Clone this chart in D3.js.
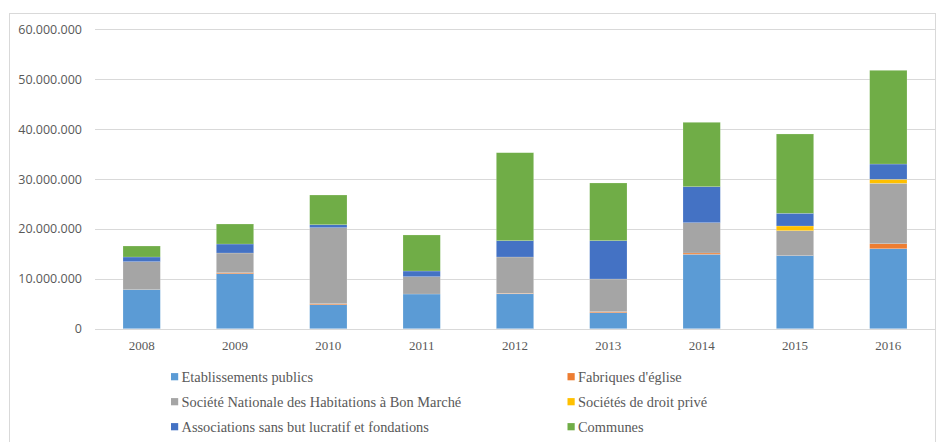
<!DOCTYPE html>
<html>
<head>
<meta charset="utf-8">
<script src="https://cdn.jsdelivr.net/npm/d3@7/dist/d3.min.js"></script>
<style>
  html, body { margin: 0; padding: 0; background: #fff; }
  svg { display: block; }
</style>
</head>
<body>
<svg id="chart" width="937" height="442"></svg>
<script>
const years = ["2008", "2009", "2010", "2011", "2012", "2013", "2014", "2015", "2016"];
const seriesNames = [
  "Etablissements publics",
  "Fabriques d'église",
  "Société Nationale des Habitations à Bon Marché",
  "Sociétés de droit privé",
  "Associations sans but lucratif et fondations",
  "Communes"
];
const etablissements = [7820000, 11020000, 4810000, 6950000, 7000000, 3210000, 14910000, 14630000, 16030000];
const fabriques      = [0, 200000, 200000, 0, 100000, 200000, 260000, 0, 1000000];
const snhbm          = [5610000, 3950000, 15230000, 3470000, 7270000, 6550000, 6070000, 5010000, 12110000];
const droitPrive     = [0, 0, 0, 0, 0, 0, 0, 940000, 800000];
const associations   = [940000, 1800000, 600000, 1140000, 3270000, 7680000, 7220000, 2550000, 3060000];
const communes       = [2200000, 4010000, 5950000, 7220000, 17630000, 11560000, 12900000, 15890000, 18780000];
const colors = ["#5B9BD5", "#ED7D31", "#A5A5A5", "#FFC000", "#4472C4", "#70AD47"];
const yTicks = [0, 10000000, 20000000, 30000000, 40000000, 50000000, 60000000];

(function () {
const seriesValues = [etablissements, fabriques, snhbm, droitPrive, associations, communes];
const keys = seriesNames;
const rows = years.map((yr, i) => {
  const r = { year: yr };
  keys.forEach((k, j) => r[k] = seriesValues[j][i]);
  return r;
});
const stacked = d3.stack().keys(keys)(rows);

const svg = d3.select("#chart");
const plotLeft = 95, plotRight = 935, plotTop = 29.3, plotBottom = 328.7;

// outer chart border
svg.append("rect")
  .attr("x", 9.5).attr("y", 13.5)
  .attr("width", 926).attr("height", 440)
  .attr("fill", "none").attr("stroke", "#d9d9d9").attr("stroke-width", 1);

const x = d3.scaleBand().domain(years).range([plotLeft, plotRight]).paddingInner(0.6).paddingOuter(0.3);
const y = d3.scaleLinear().domain([0, 60000000]).range([plotBottom, plotTop]);

const fmt = v => d3.format(",")(v).replace(/,/g, ".");

// gridlines
svg.append("g").selectAll("line").data(yTicks).join("line")
  .attr("x1", plotLeft).attr("x2", plotRight)
  .attr("y1", d => Math.round(y(d)) + 0.5).attr("y2", d => Math.round(y(d)) + 0.5)
  .attr("stroke", "#d9d9d9").attr("stroke-width", 1);

// y axis labels
const yAxis = d3.axisLeft(y).tickValues(yTicks).tickFormat(fmt).tickSize(0).tickPadding(0);
const yg = svg.append("g").attr("transform", `translate(82,0)`).call(yAxis);
yg.select(".domain").remove();
yg.selectAll("text")
  .attr("fill", "#595959")
  .style("font-family", "'Open Sans', 'Noto Sans', sans-serif")
  .style("font-size", "12.5px");

// bars
svg.append("g").selectAll("g").data(stacked).join("g")
  .attr("fill", (d, i) => colors[i])
  .selectAll("rect").data(d => d).join("rect")
  .attr("x", d => x(d.data.year))
  .attr("width", x.bandwidth())
  .attr("y", d => y(d[1]))
  .attr("height", d => Math.max(0, y(d[0]) - y(d[1])))
  .attr("stroke", "#ffffff").attr("stroke-opacity", 0.3).attr("stroke-width", 0.6);

// baseline
svg.append("line")
  .attr("x1", plotLeft).attr("x2", plotRight)
  .attr("y1", Math.round(y(0)) + 0.5).attr("y2", Math.round(y(0)) + 0.5)
  .attr("stroke", "#d9d9d9").attr("stroke-width", 1.2);

// x axis labels
const xAxis = d3.axisBottom(x).tickSize(0).tickPadding(0);
const xg = svg.append("g").attr("transform", `translate(0,${plotBottom + 12})`).call(xAxis);
xg.select(".domain").remove();
xg.selectAll("text")
  .attr("fill", "#595959")
  .style("font-family", "'Liberation Serif', 'DejaVu Serif', serif")
  .style("font-size", "13px");

// legend
const legendPos = [
  [171, 376.7], [567.5, 376.7],
  [171, 401.7], [567.5, 401.7],
  [171, 426.7], [567.5, 426.7]
];
const lg = svg.append("g").selectAll("g").data(seriesNames).join("g")
  .attr("transform", (d, i) => `translate(${legendPos[i][0]},${legendPos[i][1]})`);
lg.append("rect").attr("x", 0).attr("y", -3.6).attr("width", 7.2).attr("height", 7.2)
  .attr("fill", (d, i) => colors[i]);
lg.append("text").attr("x", 10.5).attr("y", 0).attr("dy", "0.35em")
  .attr("fill", "#595959")
  .style("font-family", "'Liberation Serif', 'DejaVu Serif', serif")
  .style("font-size", "14.4px")
  .text(d => d);
})();
</script>
</body>
</html>
